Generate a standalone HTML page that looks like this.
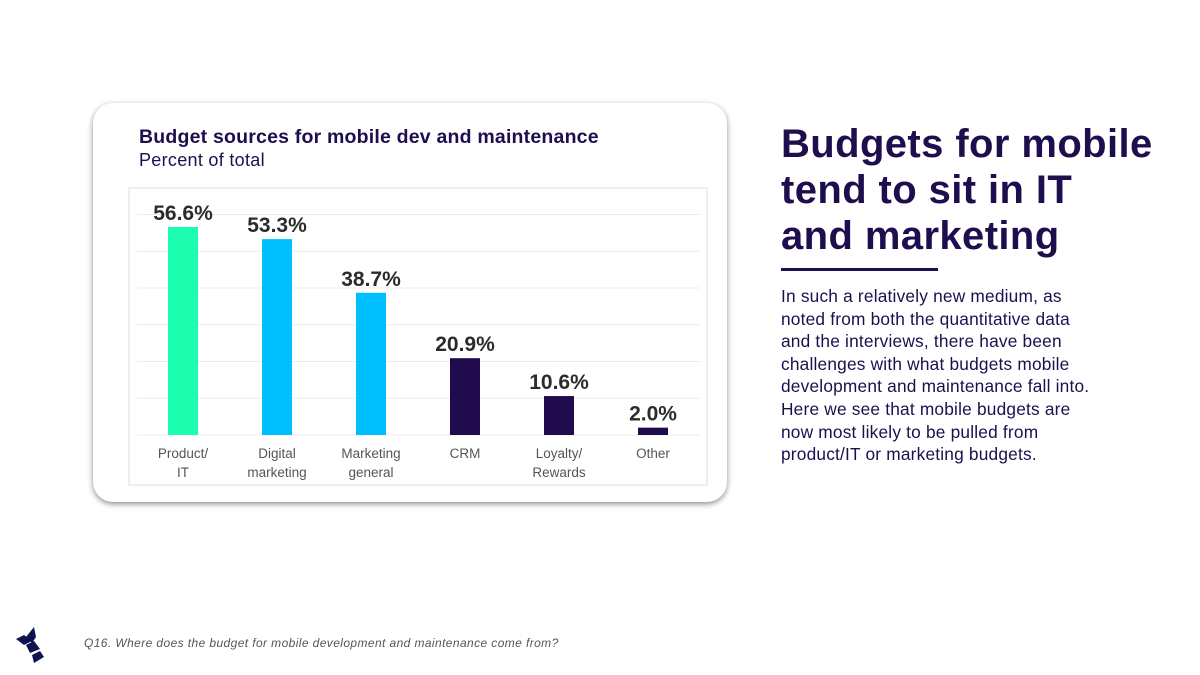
<!DOCTYPE html>
<html><head><meta charset="utf-8"><style>
body{margin:0;width:1200px;height:675px;background:#fff;font-family:"Liberation Sans",sans-serif;position:relative;overflow:hidden}
.card{position:absolute;left:93px;top:103px;width:634px;height:399px;border-radius:20px;background:#fff;box-shadow:0 2px 6px rgba(0,0,0,.45)}
.t{position:absolute;color:#1f0e4e;white-space:nowrap}
</style></head><body>
<div class="card"></div>
<div class="t" style="left:139px;top:126px;font-size:19.5px;font-weight:bold;letter-spacing:0.2px">Budget sources for mobile dev and maintenance</div>
<div class="t" style="left:139px;top:150px;font-size:18px;letter-spacing:0.3px">Percent of total</div>
<svg id="chart" width="1200" height="675" style="position:absolute;left:0;top:0">
<rect x="129" y="188" width="578" height="297" fill="none" stroke="#ddd"/>
</svg>
<div class="t" style="left:781px;top:121px;font-size:40px;font-weight:bold;line-height:46px;letter-spacing:0.4px">Budgets for mobile<br>tend to sit in IT<br>and marketing</div>
<div style="position:absolute;left:781px;top:268px;width:157px;height:3px;background:#1f0e4e"></div>
<div class="t" style="left:781px;top:285px;font-size:17.3px;line-height:22.6px;letter-spacing:0.2px">In such a relatively new medium, as<br>noted from both the quantitative data<br>and the interviews, there have been<br>challenges with what budgets mobile<br>development and maintenance fall into.<br>Here we see that mobile budgets are<br>now most likely to be pulled from<br>product/IT or marketing budgets.</div>
<svg width="40" height="40" style="position:absolute;left:14px;top:627px">
<polygon points="2,12 10,8 18,14 10,18" fill="#0d1450"/><polygon points="12,10 20,0 22,10 18,16" fill="#0d1450"/><polygon points="12,18 20,14 26,22 16,26" fill="#0d1450"/><polygon points="18,28 26,24 30,30 20,36" fill="#0d1450"/>
</svg>
<div style="position:absolute;left:84px;top:636px;font-size:12px;font-style:italic;color:#555;letter-spacing:0.4px;white-space:nowrap">Q16. Where does the budget for mobile development and maintenance come from?</div>
<script>
const categories=[["Product/","IT"],["Digital","marketing"],["Marketing","general"],["CRM"],["Loyalty/","Rewards"],["Other"]];
const values=[56.6,53.3,38.7,20.9,10.6,2.0];
const labels=["56.6%","53.3%","38.7%","20.9%","10.6%","2.0%"];
const colors=["#1dfdb0","#00bfff","#00bfff","#200c4c","#200c4c","#200c4c"];
const gridTicks=[0,10,20,30,40,50,60];
const svg=document.getElementById('chart');const NS='http://www.w3.org/2000/svg';
const y=v=>435-v*3.675;const xc=i=>183+i*94;
function mk(t,a){const e=document.createElementNS(NS,t);for(const k in a)e.setAttribute(k,a[k]);svg.appendChild(e);return e;}
gridTicks.forEach(g=>{const l=mk('line',{x1:137,x2:700,y1:y(g),y2:y(g),stroke:'#ececec'});

});
values.forEach((v,i)=>{
const r=mk('rect',{x:xc(i)-15,y:y(v),width:30,height:435-y(v),fill:colors[i]});


const t=mk('text',{x:xc(i),y:y(v)-7,'text-anchor':'middle','font-size':21,'font-weight':'bold',fill:'#2b2b2b'});t.textContent=labels[i];


categories[i].forEach((c,j)=>{const s=mk('text',{x:xc(i),y:458+j*19,'text-anchor':'middle','font-size':13.5,fill:'#555'});s.textContent=c;

});
});
</script>
</body></html>
